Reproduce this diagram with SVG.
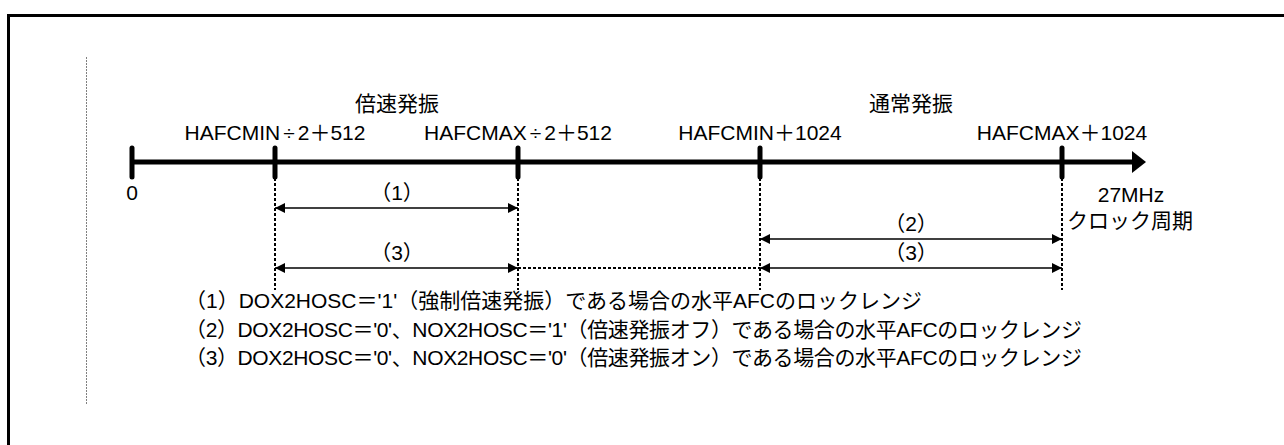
<svg xmlns="http://www.w3.org/2000/svg" width="1284" height="445" viewBox="0 0 1284 445">
<style>
text{font-family:"Liberation Sans","Noto Sans CJK JP",sans-serif;font-size:21px;fill:#000}
.m{text-anchor:middle}
.axis{stroke:#000;stroke-width:5;fill:none}
.tick{stroke:#000;stroke-width:5;stroke-linecap:round;fill:none}
.dot{stroke:#000;stroke-width:2;stroke-dasharray:3 2;fill:none}
.dim{stroke:#000;stroke-width:1.6;fill:none;marker-start:url(#ah);marker-end:url(#ah)}
</style>
<defs>
<marker id="ah" viewBox="0 0 10 10" refX="10" refY="5" markerWidth="10" markerHeight="10" markerUnits="userSpaceOnUse" orient="auto-start-reverse">
<path d="M0,0 L10,5 L0,10 Z" fill="#000"/>
</marker>
</defs>
<g id="frame">
<path d="M8.5,445 V15.5 H1284" fill="none" stroke="#000" stroke-width="3"/>
<line x1="86.5" y1="57" x2="86.5" y2="404" stroke="#808080" stroke-width="1" stroke-dasharray="2 1"/>
</g>
<g id="connectors">
<line class="axis" x1="132" y1="162" x2="1134" y2="162"/>
<path d="M1132,151 L1146,162 L1132,173 Z" fill="#000"/>
<line class="tick" x1="132" y1="148" x2="132" y2="177"/>
<line class="tick" x1="275" y1="148" x2="275" y2="177"/>
<line class="tick" x1="518" y1="148" x2="518" y2="177"/>
<line class="tick" x1="760" y1="148" x2="760" y2="177"/>
<line class="tick" x1="1062" y1="148" x2="1062" y2="177"/>
<line class="dot" x1="275" y1="178" x2="275" y2="290"/>
<line class="dot" x1="518" y1="178" x2="518" y2="290"/>
<line class="dot" x1="760" y1="178" x2="760" y2="290"/>
<line class="dot" x1="1062" y1="178" x2="1062" y2="290"/>
<line class="dot" x1="518" y1="268" x2="760" y2="268"/>
<line class="dim" x1="275" y1="208" x2="518" y2="208"/>
<line class="dim" x1="275" y1="268" x2="518" y2="268"/>
<line class="dim" x1="760" y1="239" x2="1062" y2="239"/>
<line class="dim" x1="760" y1="268" x2="1062" y2="268"/>
</g>
<g id="label-double">
<text class="m" x="397" y="111">倍速発振</text>
</g>
<g id="label-normal">
<text class="m" x="911" y="111">通常発振</text>
</g>
<g id="tick-0"><text class="m" x="132" y="200">0</text></g>
<g id="tick-hafcmin2"><text class="m" x="275" y="140">HAFCMIN<tspan dx="3">÷</tspan><tspan dx="3">2＋512</tspan></text></g>
<g id="tick-hafcmax2"><text class="m" x="518" y="140">HAFCMAX<tspan dx="3">÷</tspan><tspan dx="3">2＋512</tspan></text></g>
<g id="tick-hafcmin"><text class="m" x="760" y="140">HAFCMIN＋1024</text></g>
<g id="tick-hafcmax"><text class="m" x="1062" y="140">HAFCMAX＋1024</text></g>
<g id="axis-unit">
<text class="m" x="1131" y="202">27MHz</text>
<text class="m" x="1130" y="228">クロック周期</text>
</g>
<g id="range-1"><text class="m" x="397" y="200">（1）</text></g>
<g id="range-3a"><text class="m" x="397" y="260">（3）</text></g>
<g id="range-2"><text class="m" x="911" y="231">（2）</text></g>
<g id="range-3b"><text class="m" x="911" y="260">（3）</text></g>
<g id="notes">
<text x="185" y="308">（1）DOX2HOSC＝'1'（強制倍速発振）である場合の水平AFCのロックレンジ</text>
<text x="185" y="336.5" textLength="897" lengthAdjust="spacing">（2）DOX2HOSC＝'0'、NOX2HOSC＝'1'（倍速発振オフ）である場合の水平AFCのロックレンジ</text>
<text x="185" y="365" textLength="897" lengthAdjust="spacing">（3）DOX2HOSC＝'0'、NOX2HOSC＝'0'（倍速発振オン）である場合の水平AFCのロックレンジ</text>
</g>
</svg>
